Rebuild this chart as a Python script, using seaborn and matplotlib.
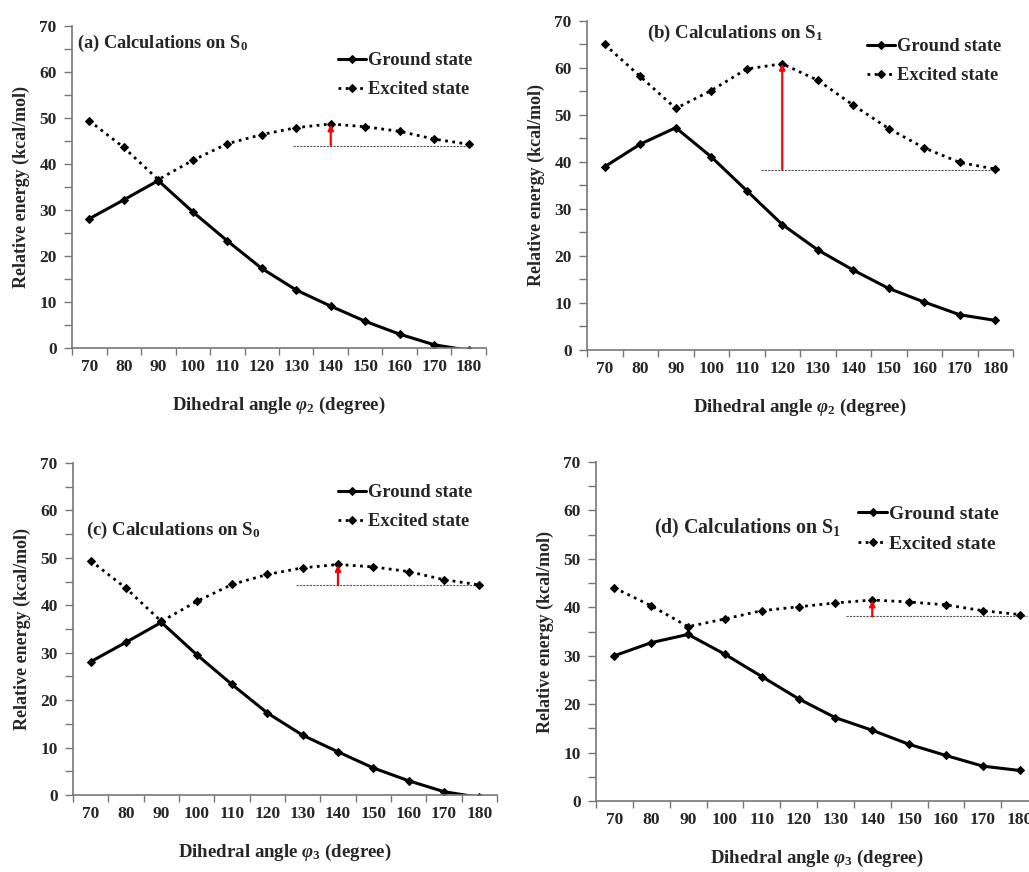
import matplotlib
matplotlib.use("Agg")
import matplotlib.pyplot as plt
import seaborn as sns
import numpy as np
import pandas as pd

# ---------------- data ----------------
angles = [70, 80, 90, 100, 110, 120, 130, 140, 150, 160, 170, 180]

a_ground = [28.1, 32.2, 36.4, 29.6, 23.3, 17.3, 12.6, 9.1, 5.8, 3.0, 0.7, -0.5]
a_excited = [49.4, 43.6, 36.6, 40.8, 44.4, 46.4, 47.9, 48.7, 48.1, 47.1, 45.4, 44.3]

b_ground = [39.0, 43.8, 47.3, 41.1, 33.9, 26.7, 21.3, 17.0, 13.1, 10.2, 7.5, 6.3]
b_excited = [65.0, 58.2, 51.4, 55.2, 59.8, 60.9, 57.4, 52.1, 47.1, 43.0, 39.9, 38.5]

c_ground = [28.1, 32.2, 36.4, 29.6, 23.3, 17.3, 12.6, 9.1, 5.7, 3.0, 0.7, -0.5]
c_excited = [49.4, 43.6, 36.6, 40.8, 44.4, 46.5, 47.9, 48.6, 48.1, 47.1, 45.4, 44.3]

d_ground = [30.0, 32.7, 34.4, 30.3, 25.7, 21.1, 17.2, 14.6, 11.7, 9.4, 7.2, 6.3]
d_excited = [44.0, 40.3, 36.0, 37.6, 39.3, 40.1, 40.9, 41.5, 41.1, 40.5, 39.3, 38.5]

titles = ["(a) Calculations on S$_0$", "(b) Calculations on S$_1$",
          "(c) Calculations on S$_0$", "(d) Calculations on S$_1$"]
xlabels = [r"Dihedral angle $\varphi_2$ (degree)", r"Dihedral angle $\varphi_2$ (degree)",
           r"Dihedral angle $\varphi_3$ (degree)", r"Dihedral angle $\varphi_3$ (degree)"]
ylabel = "Relative energy (kcal/mol)"
legend_labels = ["Ground state", "Excited state"]

# reference level (dashed line), its x-extent, and arrow angle for each panel
ref_levels = [44.0, 38.4, 44.2, 38.1]
ref_start = [129, 114, 128, 133]
ref_end = [181, 181, 181, 182]
arrow_at = [140, 120, 140, 140]
arrow_top = [48.6, 60.9, 48.5, 41.4]

# ---------------- style ----------------
sns.set_style("ticks")
plt.rcParams["font.family"] = ["Liberation Serif", "DejaVu Serif"]
plt.rcParams["font.weight"] = "bold"
plt.rcParams["mathtext.fontset"] = "custom"
plt.rcParams["mathtext.rm"] = "Liberation Serif:bold"
plt.rcParams["mathtext.bf"] = "Liberation Serif:bold"
plt.rcParams["mathtext.it"] = "Liberation Serif:italic:bold"

W, H = 1029, 872
fig = plt.figure(figsize=(W / 100, H / 100), dpi=100)

def px_axes(left, top, right, bottom):
    return fig.add_axes([left / W, 1 - bottom / H, (right - left) / W, (bottom - top) / H])

boxes = [(72, 26, 486, 348), (587, 21, 1013, 350), (73, 463, 497, 795), (596, 462, 1038, 801)]
title_pos = [(77, 43, 13.2), (647, 33, 13.6), (86, 530, 13.6), (654, 528, 14.4)]
legend_pos = [(338, 52), (867, 38), (338, 484), (858, 505)]
legend_fs = [13.3, 13.3, 13.3, 14.0]

grounds = [a_ground, b_ground, c_ground, d_ground]
exciteds = [a_excited, b_excited, c_excited, d_excited]

spine_col = "#777777"

for i in range(4):
    ax = px_axes(*boxes[i])
    df = pd.DataFrame({"angle": angles, "ground": grounds[i], "excited": exciteds[i]})
    sns.lineplot(data=df, x="angle", y="ground", ax=ax, color="black", lw=2.2,
                 marker="D", markersize=4, markeredgecolor="black", label=legend_labels[0])
    sns.lineplot(data=df, x="angle", y="excited", ax=ax, color="black", lw=2.0,
                 linestyle=(0, (1, 1.6)), marker="D", markersize=4,
                 markeredgecolor="black", label=legend_labels[1])
    # reference line and arrow
    ax.plot([ref_start[i], ref_end[i]], [ref_levels[i], ref_levels[i]], color="#555555",
            lw=0.8, linestyle=(0, (2, 1)), zorder=1)
    ax.annotate("", xy=(arrow_at[i], arrow_top[i]), xytext=(arrow_at[i], ref_levels[i]),
                arrowprops=dict(arrowstyle="-|>", color="red", lw=1.6, mutation_scale=8,
                                shrinkA=0, shrinkB=0))

    ax.set_xlim(65, 185)
    ax.set_ylim(0, 70)
    ax.set_xticks(np.arange(65, 186, 10))
    ax.set_xticklabels([])
    ax.set_xticks(angles, minor=True)
    ax.set_xticklabels([str(a) for a in angles], minor=True)
    ax.tick_params(axis="x", which="major", length=5, width=1, color=spine_col, direction="out")
    ax.tick_params(axis="x", which="minor", length=0, pad=8, labelsize=12.5)
    ax.set_yticks(np.arange(0, 71, 10))
    ax.set_yticks(np.arange(5, 70, 10), minor=True)
    ax.tick_params(axis="y", which="both", length=6, width=1, color=spine_col,
                   direction="out", pad=5, labelsize=12.5)
    for sp in ["left", "bottom"]:
        ax.spines[sp].set_color(spine_col)
        ax.spines[sp].set_linewidth(1.2)
    sns.despine(ax=ax)
    ax.set_xlabel(xlabels[i], fontsize=13.6, fontweight="bold", labelpad=14)
    ax.set_ylabel(ylabel, fontsize=13, fontweight="bold", labelpad=7)

    leg = ax.legend(loc="upper left",
                    bbox_to_anchor=(legend_pos[i][0] / W, 1 - legend_pos[i][1] / H),
                    bbox_transform=fig.transFigure, frameon=False, fontsize=legend_fs[i],
                    handlelength=1.5, handletextpad=0.1, borderpad=0, borderaxespad=0,
                    labelspacing=0.65)

    tx, ty, fs = title_pos[i]
    fig.text(tx / W, 1 - ty / H, titles[i], fontsize=fs, fontweight="bold",
             ha="left", va="center")

fig.savefig("out.png", dpi=100)
